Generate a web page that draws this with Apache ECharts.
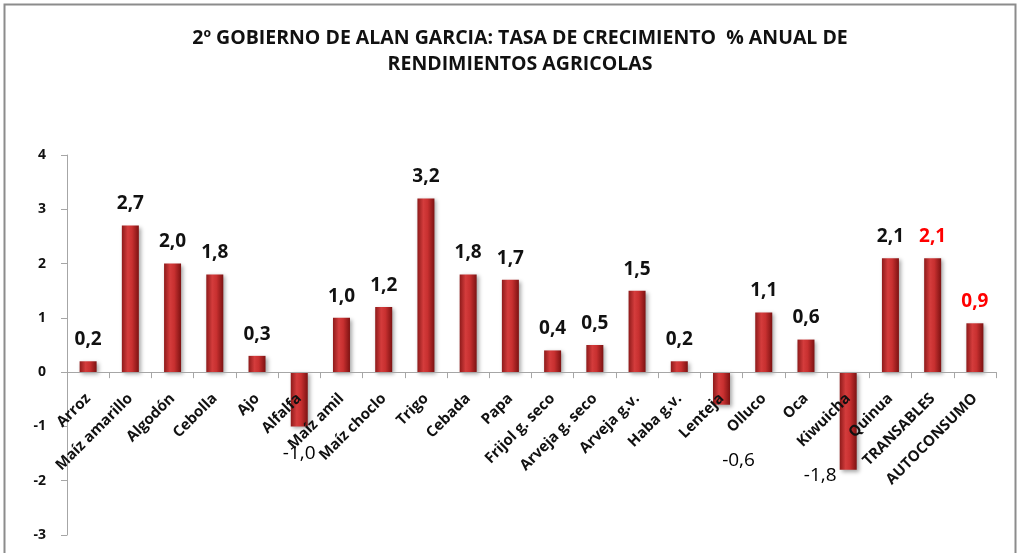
<!DOCTYPE html>
<html>
<head>
<meta charset="utf-8">
<script src="https://cdn.jsdelivr.net/npm/echarts@6/dist/echarts.min.js"></script>
<style>
  html, body { margin: 0; padding: 0; background: #fff; }
  #main { width: 1019px; height: 553px; }
</style>
</head>
<body>
<div id="main"></div>
<script>
var categories = ['Arroz', 'Maíz amarillo', 'Algodón', 'Cebolla', 'Ajo', 'Alfalfa', 'Maíz amil',
    'Maíz choclo', 'Trigo', 'Cebada', 'Papa', 'Frijol g. seco', 'Arveja g. seco', 'Arveja g.v.',
    'Haba g.v.', 'Lenteja', 'Olluco', 'Oca', 'Kiwuicha', 'Quinua', 'TRANSABLES', 'AUTOCONSUMO'];
var values = [0.2, 2.7, 2.0, 1.8, 0.3, -1.0, 1.0, 1.2, 3.2, 1.8, 1.7, 0.4, 0.5, 1.5, 0.2, -0.6,
    1.1, 0.6, -1.8, 2.1, 2.1, 0.9];
var yTicks = [-3, -2, -1, 0, 1, 2, 3, 4];
var redLabels = ['TRANSABLES', 'AUTOCONSUMO'];

// manual label placement for the negative bars (as in the original sheet)
var negOffsets = { 'Alfalfa': [0, 6], 'Lenteja': [17, 34], 'Kiwuicha': [-28, -16] };

var font = '"Open Sans", sans-serif';
var W = 1019, H = 553;
var gridTop = 155, gridBottom = 18;

// category axis sits on the zero line, so move it up from the grid bottom
var yMin = yTicks[0], yMax = yTicks[yTicks.length - 1];
var plotH = H - gridTop - gridBottom;
var zeroShift = plotH * (0 - yMin) / (yMax - yMin);

var barColor = new echarts.graphic.LinearGradient(0, 0, 1, 0, [
    { offset: 0, color: '#8e1a1a' },
    { offset: 0.35, color: '#d43c3c' },
    { offset: 0.6, color: '#c83030' },
    { offset: 1, color: '#7d1212' }
]);

var seriesData = values.map(function (v, i) {
    var name = categories[i];
    var item = { value: v };
    if (v < 0) {
        var off = negOffsets[name] || [0, 0];
        item.label = {
            position: 'bottom',
            offset: off,
            fontWeight: 'normal',
            fontSize: 19,
            color: '#000'
        };
    }
    if (redLabels.indexOf(name) >= 0) {
        item.label = { color: '#ff0000' };
    }
    return item;
});

var myChart = echarts.init(document.getElementById('main'));

option = {
    backgroundColor: '#fff',
    title: {
        text: '2º GOBIERNO DE ALAN GARCIA: TASA DE CRECIMIENTO  % ANUAL DE\nRENDIMIENTOS AGRICOLAS',
        left: 515,
        top: 20,
        textAlign: 'center',
        textStyle: {
            fontFamily: font,
            fontSize: 19.5,
            fontWeight: 'bold',
            color: '#111',
            lineHeight: 26
        }
    },
    graphic: [{
        type: 'rect',
        shape: { x: 4.5, y: 4.5, width: 1011, height: 560 },
        style: { fill: 'none', stroke: '#8c8c8c', lineWidth: 2 },
        silent: true
    }],
    grid: {
        left: 67,
        right: 23,
        top: gridTop,
        bottom: gridBottom,
        containLabel: false,
        outerBoundsMode: 'none'
    },
    xAxis: {
        type: 'category',
        data: categories,
        position: 'bottom',
        offset: -zeroShift,
        z: 5,
        axisLine: { onZero: false, lineStyle: { color: '#a6a6a6' } },
        axisTick: { show: true, length: 6, lineStyle: { color: '#a6a6a6' } },
        axisLabel: {
            interval: 0,
            rotate: 45,
            margin: 24,
            fontFamily: font,
            fontSize: 15,
            fontWeight: 'bold',
            color: '#111'
        }
    },
    yAxis: {
        type: 'value',
        min: yMin,
        max: yMax,
        interval: 1,
        splitLine: { show: false },
        axisLine: { show: true, lineStyle: { color: '#a6a6a6' } },
        axisTick: { show: true, length: 6, lineStyle: { color: '#a6a6a6' } },
        axisLabel: {
            margin: 21,
            fontFamily: font,
            fontSize: 14,
            fontWeight: 'bold',
            color: '#111'
        }
    },
    series: [{
        type: 'bar',
        data: seriesData,
        barWidth: 17,
        itemStyle: {
            color: barColor,
            shadowColor: 'rgba(0,0,0,0.35)',
            shadowBlur: 4,
            shadowOffsetX: 2,
            shadowOffsetY: 2
        },
        label: {
            show: true,
            position: 'top',
            distance: 12,
            fontFamily: font,
            fontSize: 19,
            fontWeight: 'bold',
            color: '#111',
            formatter: function (p) {
                return p.value.toFixed(1).replace('.', ',');
            }
        }
    }]
};

myChart.setOption(option);
</script>
</body>
</html>
